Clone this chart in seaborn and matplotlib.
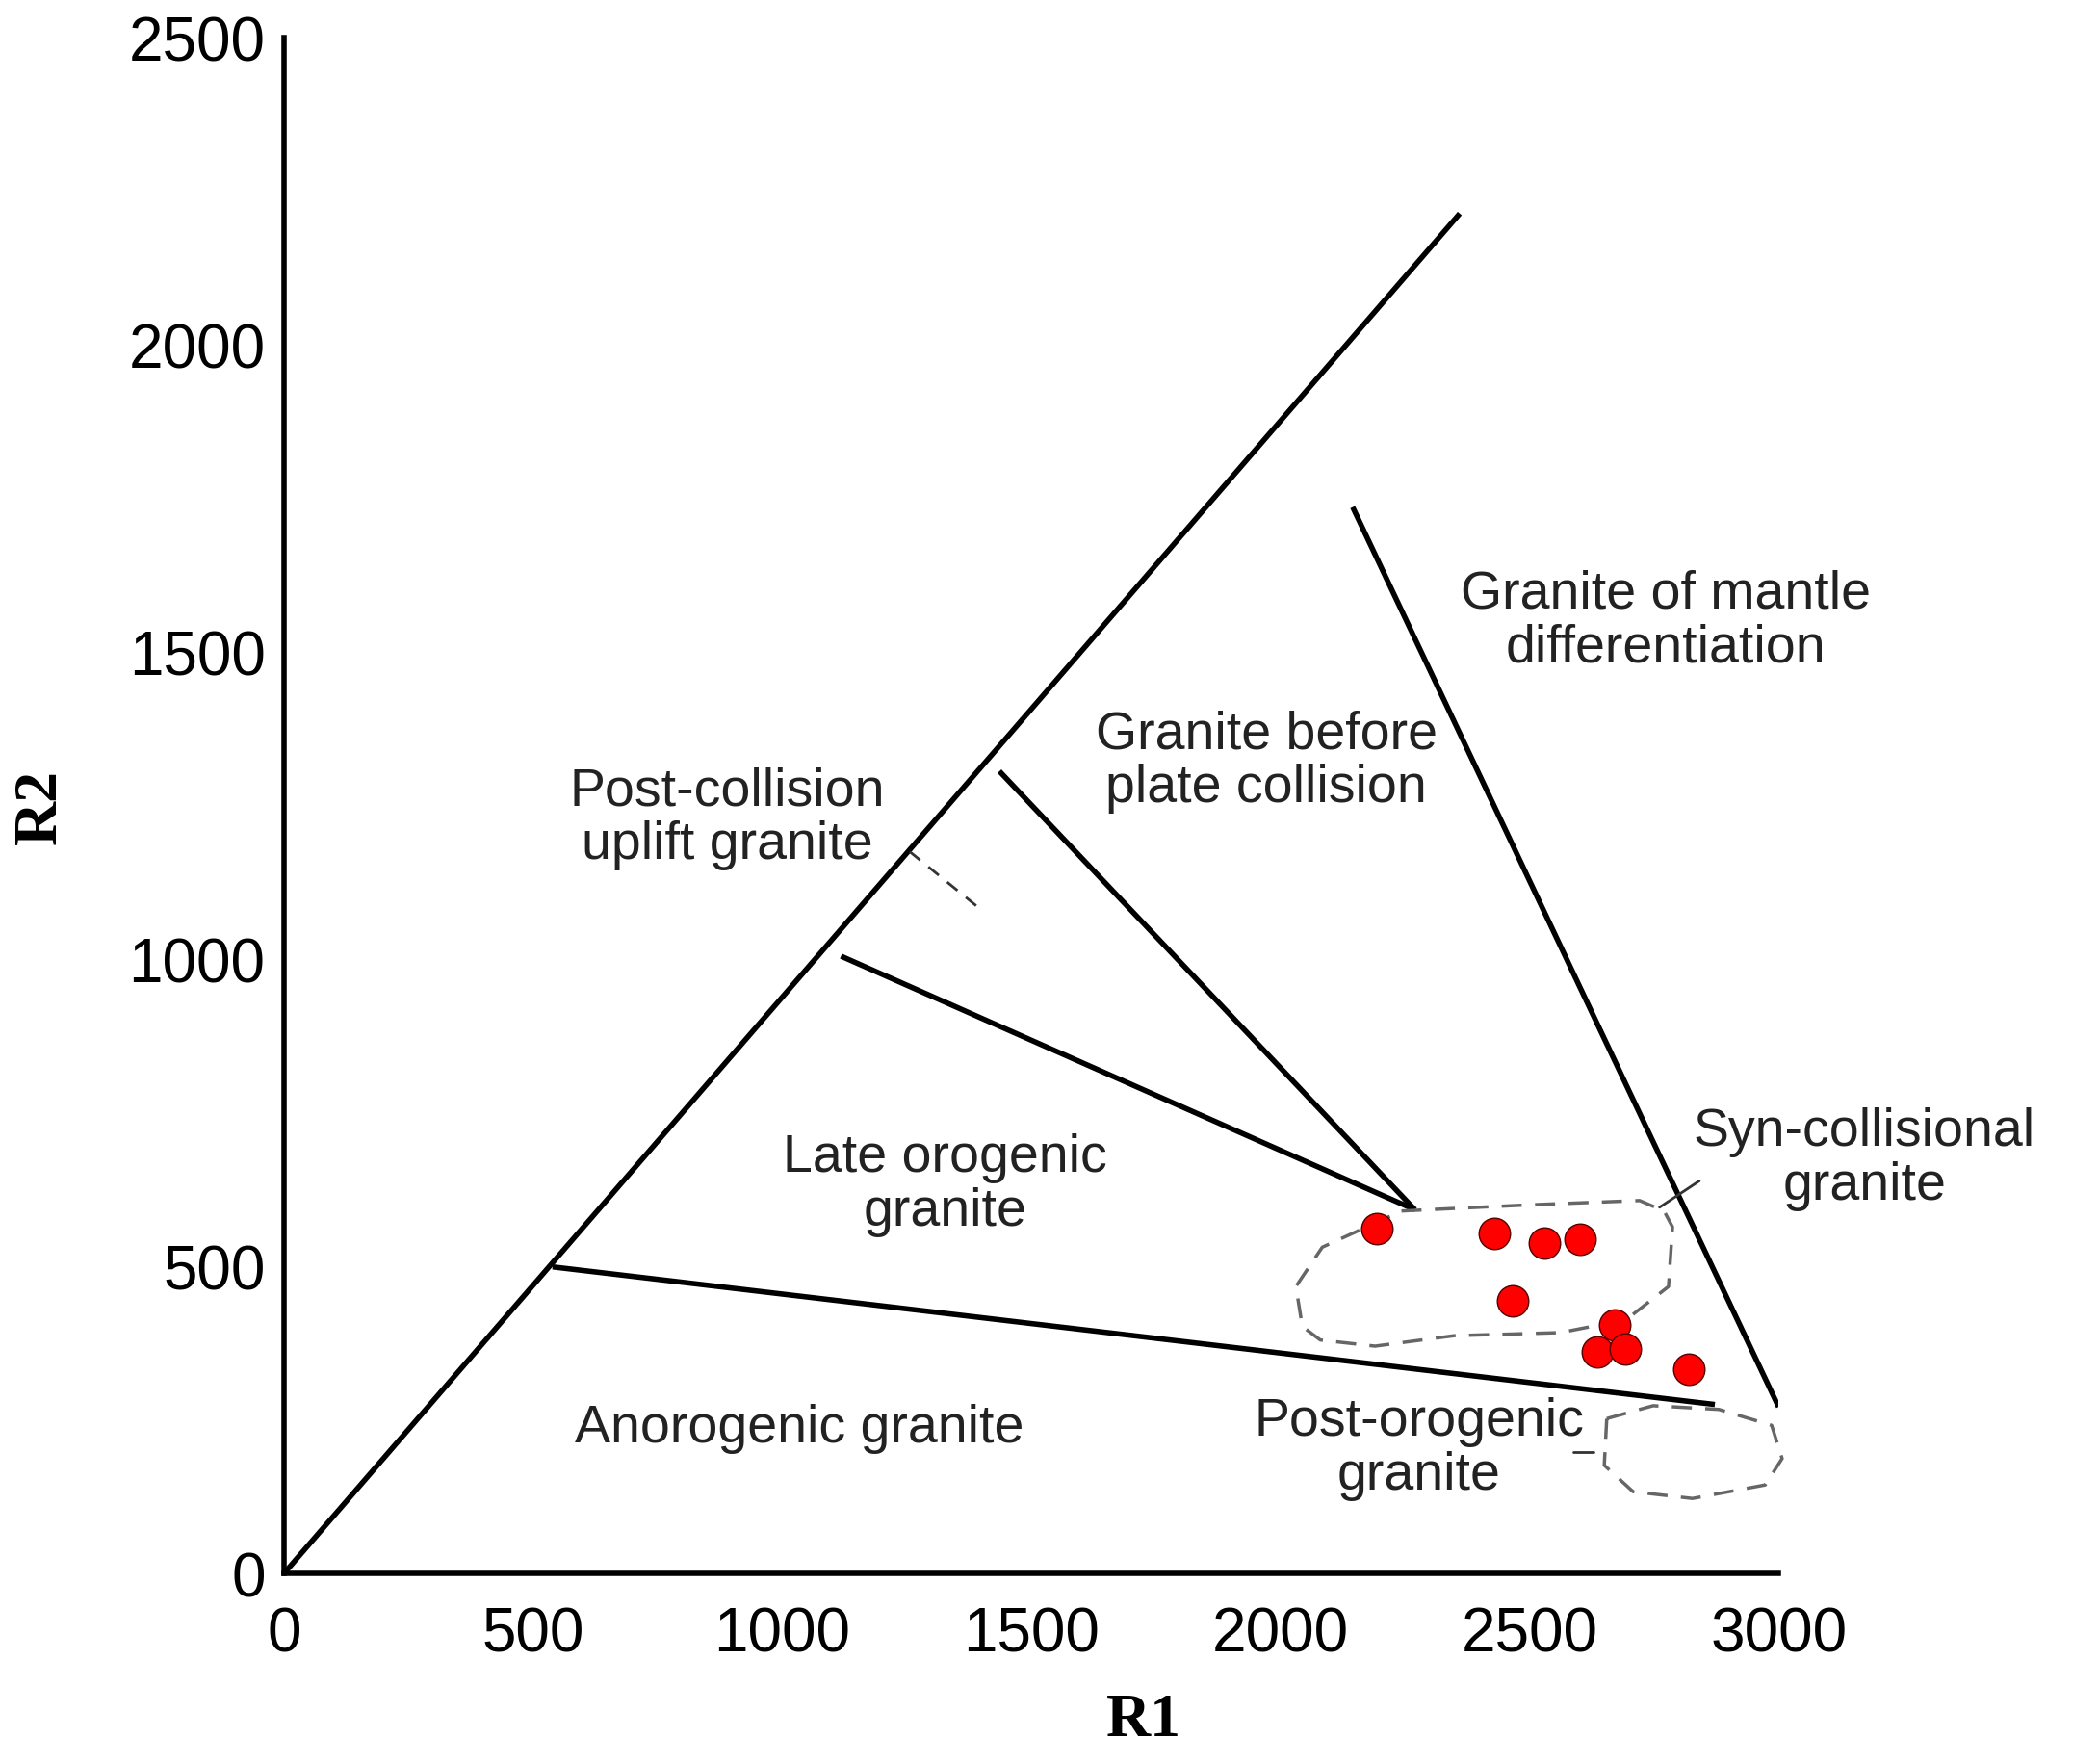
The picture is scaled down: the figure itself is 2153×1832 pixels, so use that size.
import numpy as np
import pandas as pd
import matplotlib
matplotlib.use('Agg')
import matplotlib.pyplot as plt
import seaborn as sns

# sample points (R1, R2)
r1 = [2193, 2429, 2530, 2601, 2466, 2671, 2636, 2692, 2819]
r2 = [561, 553, 538, 544, 443, 404, 361, 366, 333]

# field boundaries (solid)
boundaries = [
    ([0, 2360], [0, 2214]),
    ([539, 2872], [499, 275]),
    ([1118, 2270], [1005, 592]),
    ([1436, 2270], [1306, 592]),
    ([2145, 3000], [1736, 271]),
]
dashed_seg = ([1256, 1394], [1175, 1084])
leaders = [([2761, 2841], [596, 639]), ([2588, 2628], [198, 198])]

env1_x = [2243, 2500, 2721, 2770, 2787, 2779, 2694, 2562, 2349, 2190, 2080, 2044, 2031, 2084, 2243]
env1_y = [590, 600, 607, 590, 564, 467, 413, 392, 387, 370, 380, 402, 467, 531, 590]
env2_x = [2655, 2748, 2880, 2986, 3007, 2973, 2827, 2708, 2650, 2655]
env2_y = [252, 273, 267, 241, 187, 144, 122, 133, 176, 252]

labels = [
    ("Post-collision\nuplift granite", 889, 1230),
    ("Granite before\nplate collision", 1972, 1323),
    ("Granite of mantle\ndifferentiation", 2774, 1551),
    ("Late orogenic\ngranite", 1327, 633),
    ("Syn-collisional\ngranite", 3172, 676),
    ("Anorogenic granite", 1035, 237),
    ("Post-orogenic\ngranite", 2278, 204),
]

sns.set_style('white')
plt.rcParams['font.family'] = ['Liberation Sans', 'DejaVu Sans']

fig = plt.figure(figsize=(21.53, 18.33), dpi=100)
ax = fig.add_axes([0.137, 0.108, 0.721, 0.870])

for xs, ys in boundaries:
    ax.plot(xs, ys, color='black', lw=4, solid_capstyle='butt')
ax.plot(*dashed_seg, color='#333333', lw=2, ls=(0, (5, 4)))
for xs, ys in leaders:
    ax.plot(xs, ys, color='#333333', lw=2, clip_on=False)
ax.plot(env1_x, env1_y, color='#666666', lw=2.5, ls=(0, (6, 4)))
ax.plot(env2_x, env2_y, color='#666666', lw=2.5, ls=(0, (6, 4)), clip_on=False)

df = pd.DataFrame({'R1': r1, 'R2': r2})
sns.scatterplot(data=df, x='R1', y='R2', ax=ax, color='#ff0000', edgecolor='#550000',
                s=550, linewidth=1, zorder=5)

for txt, x, y in labels:
    ax.text(x, y, txt, ha='center', va='center', fontsize=40, color='#222222',
            linespacing=1.1, clip_on=False)

ax.set_xlim(0, 3000)
ax.set_ylim(0, 2500)
ax.set_xticks(range(0, 3001, 500))
ax.set_yticks(range(0, 2501, 500))
ax.tick_params(direction='in', length=10, width=2, labelsize=46, pad=14,
               labelcolor='black')
ax.tick_params(axis='x', pad=24)
for s in ['top', 'right']:
    ax.spines[s].set_visible(False)
for s in ['left', 'bottom']:
    ax.spines[s].set_linewidth(4)
    ax.spines[s].set_color('black')
ax.set_xlabel('R1', fontsize=46, fontweight='bold', family='Liberation Serif', color='black')
ax.set_ylabel('R2', fontsize=46, fontweight='bold', family='Liberation Serif', color='black')
ax.xaxis.set_label_coords(0.575, -0.078)
ax.yaxis.set_label_coords(-0.144, 0.5)

fig.savefig('out.png', dpi=100)
